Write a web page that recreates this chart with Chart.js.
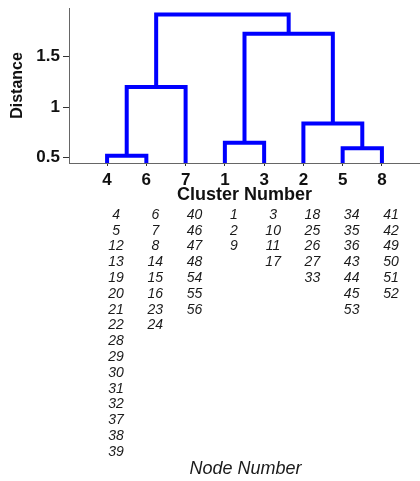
<!DOCTYPE html>
<html>
<head>
<meta charset="utf-8">
<script src="https://cdn.jsdelivr.net/npm/chart.js@4"></script>
<style>
html,body{margin:0;padding:0;background:#fff;}
#wrap{width:420px;height:481px;position:relative;}
</style>
</head>
<body>
<div id="wrap"><canvas id="c" width="420" height="481"></canvas></div>
<script>
// ---- data ----
const leafLabels = ['4', '6', '7', '1', '3', '2', '5', '8'];
// merges: ids 0..7 are leaves (in display order), merge k creates node 8+k
const mergeLeft   = [0, 6, 3, 5, 8, 10, 12];
const mergeRight  = [1, 7, 4, 9, 2, 11, 13];
const mergeHeight = [0.515, 0.59, 0.645, 0.835, 1.20, 1.73, 1.92];
const yTicks = [0.5, 1, 1.5];
const nodeLists = [
  [4, 5, 12, 13, 19, 20, 21, 22, 28, 29, 30, 31, 32, 37, 38, 39],
  [6, 7, 8, 14, 15, 16, 23, 24],
  [40, 46, 47, 48, 54, 55, 56],
  [1, 2, 9],
  [3, 10, 11, 17],
  [18, 25, 26, 27, 33],
  [34, 35, 36, 43, 44, 45, 53],
  [41, 42, 49, 50, 51, 52]
];
const yMin = 0.443, yMax = 1.985;
const xMin = -0.97, xMax = 7.97;

// ---- build dendrogram segments ----
const nodeX = leafLabels.map((_, i) => i);
const nodeH = leafLabels.map(() => yMin);
const datasets = [];
for (let k = 0; k < mergeHeight.length; k++) {
  const a = mergeLeft[k], b = mergeRight[k], h = mergeHeight[k];
  datasets.push({
    data: [
      {x: nodeX[a], y: nodeH[a]},
      {x: nodeX[a], y: h},
      {x: nodeX[b], y: h},
      {x: nodeX[b], y: nodeH[b]}
    ],
    borderColor: '#0000FF',
    borderWidth: 4,
    pointRadius: 0,
    tension: 0,
    fill: false,
    borderJoinStyle: 'miter',
    borderCapStyle: 'butt',
    clip: false
  });
  nodeX.push((nodeX[a] + nodeX[b]) / 2);
  nodeH.push(h);
}

const FONT = "'Liberation Sans', Arial, sans-serif";

const nodePlugin = {
  id: 'nodeLists',
  afterDraw(chart) {
    const ctx = chart.ctx;
    const xs = chart.scales.x;
    ctx.save();
    ctx.fillStyle = '#1a1a1a';
    ctx.textAlign = 'center';
    ctx.textBaseline = 'middle';
    ctx.font = 'italic 14px ' + FONT;
    nodeLists.forEach((col, i) => {
      const cx = xs.getPixelForValue(i) + 9;
      col.forEach((v, r) => {
        ctx.fillText(String(v), cx, 215 + r * 15.8);
      });
    });
    ctx.font = 'italic 18px ' + FONT;
    const ca = chart.chartArea;
    ctx.fillText('Node Number', (ca.left + ca.right) / 2 + 1, 469);
    ctx.restore();
  }
};

new Chart(document.getElementById('c'), {
  type: 'line',
  data: { datasets },
  options: {
    responsive: false,
    animation: false,
    events: [],
    layout: { padding: { top: 8, left: 0, right: 0, bottom: 275 } },
    plugins: { legend: { display: false }, tooltip: { enabled: false } },
    scales: {
      x: {
        type: 'linear',
        min: xMin, max: xMax,
        z: 1,
        afterFit(s) { s.height = 43; s.paddingLeft = 0; s.paddingRight = 0; },
        afterBuildTicks(s) { s.ticks = leafLabels.map((_, i) => ({value: i})); },
        border: { display: true, color: '#666', width: 1 },
        grid: { display: true, drawOnChartArea: false, drawTicks: true, tickLength: 3, color: '#333', lineWidth: 1 },
        ticks: {
          padding: 4,
          autoSkip: false,
          maxRotation: 0,
          color: '#111',
          font: { family: FONT, size: 17, weight: 'bold' },
          callback: (v) => leafLabels[v]
        },
        title: {
          display: true,
          text: 'Cluster Number',
          color: '#111',
          padding: 0,
          font: { family: FONT, size: 18, weight: 'bold' }
        }
      },
      y: {
        type: 'linear',
        min: yMin, max: yMax,
        z: 1,
        afterFit(s) { s.width = 69; s.paddingTop = 0; s.paddingBottom = 0; },
        afterBuildTicks(s) { s.ticks = yTicks.map(v => ({value: v})); },
        border: { display: true, color: '#666', width: 1 },
        grid: { display: true, drawOnChartArea: false, drawTicks: true, tickLength: 6, color: '#333', lineWidth: 1 },
        ticks: {
          padding: 3,
          color: '#111',
          font: { family: FONT, size: 17, weight: 'bold' },
          callback: (v) => String(v)
        },
        title: {
          display: true,
          text: 'Distance',
          color: '#111',
          padding: { top: 8, bottom: 0 },
          font: { family: FONT, size: 16, weight: 'bold' }
        }
      }
    }
  },
  plugins: [nodePlugin]
});
</script>
</body>
</html>
